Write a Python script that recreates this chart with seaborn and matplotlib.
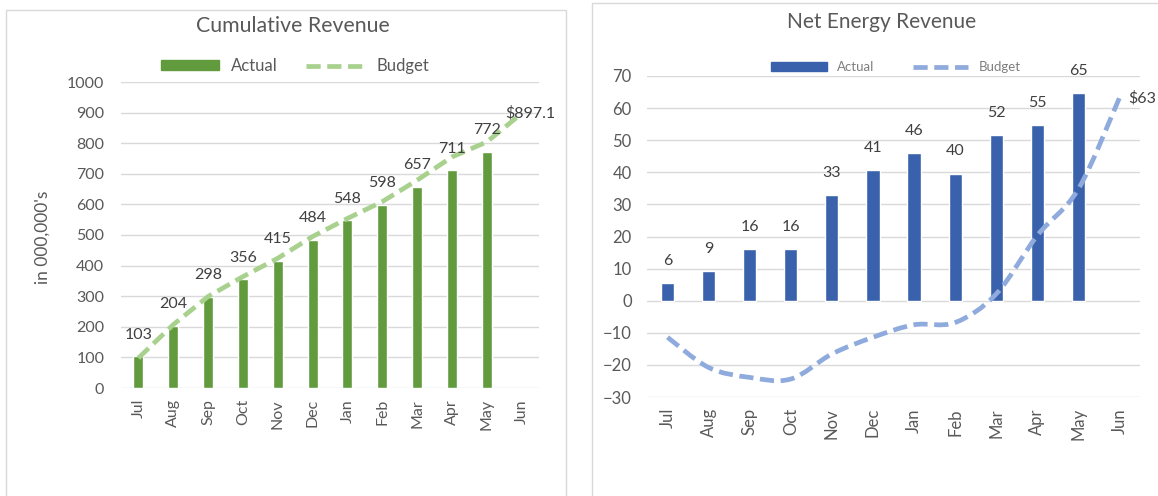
import numpy as np
import pandas as pd
import seaborn as sns
import matplotlib
matplotlib.use("Agg")
import matplotlib.pyplot as plt
from matplotlib.patches import Rectangle, PathPatch, Patch
from matplotlib.path import Path
from matplotlib.lines import Line2D

# ---------------- data ----------------
months = ["Jul", "Aug", "Sep", "Oct", "Nov", "Dec", "Jan", "Feb", "Mar", "Apr", "May", "Jun"]
cum_actual = [103, 204, 298, 356, 415, 484, 548, 598, 657, 711, 772]
cum_budget = [98, 207, 299, 364, 424, 495, 554, 609, 679, 755, 804, 897.1]
net_actual = [5.6, 9.1, 16, 16, 33, 40.6, 46, 39.6, 51.6, 54.6, 64.6]
net_budget = [-11.4, -20.8, -23.9, -24.4, -16.6, -11.4, -7.5, -6.8, 2.1, 20.3, 34.8, 63.2]
left_yticks = [0, 100, 200, 300, 400, 500, 600, 700, 800, 900, 1000]
right_yticks = [-30, -20, -10, 0, 10, 20, 30, 40, 50, 60, 70]

# ---------------- style ----------------
sns.set_theme(style="white")
plt.rcParams["font.family"] = ["Lato", "DejaVu Sans"]

GREEN = "#629B3D"
LGREEN = "#A9D18E"
BLUE = "#3A62AC"
LBLUE = "#8FAADC"
GRID = "#D9D9D9"
TXT = "#595959"
LBL = "#404040"

W, H = 1158, 496
fig = plt.figure(figsize=(W / 100, H / 100), dpi=100)

# panel borders
fig.add_artist(Rectangle((6 / W, -0.05), (566 - 6) / W, 1.05 - 10 / H,
                         transform=fig.transFigure, fill=False, ec=GRID, lw=1))
fig.add_artist(Rectangle((592 / W, -0.05), 0.5, 1.05 - 3 / H,
                         transform=fig.transFigure, fill=False, ec=GRID, lw=1))


def frac_box(x0, x1, ytop, ybot):
    return [x0 / W, 1 - ybot / H, (x1 - x0) / W, (ybot - ytop) / H]


def style_axes(ax, yticks, fs, ypad):
    for s in ax.spines.values():
        s.set_visible(False)
    ax.set_yticks(yticks)
    ax.yaxis.grid(True, color=GRID, lw=1)
    ax.set_axisbelow(True)
    ax.tick_params(axis="both", length=0, colors=TXT, labelsize=fs)
    ax.tick_params(axis="y", pad=ypad)
    ax.tick_params(axis="x", pad=8)
    ax.set_xlabel("")
    ax.set_ylabel("")


DASH = (3.0, 1.4)

# ---------------- left chart ----------------
axL = fig.add_axes(frac_box(121, 539, 82, 388))
dfL = pd.DataFrame({"month": months[:len(cum_actual)], "actual": cum_actual})
sns.barplot(data=dfL, x="month", y="actual", order=months, color=GREEN,
            width=0.29, saturation=1, ax=axL, errorbar=None)
sns.lineplot(x=np.arange(len(months)), y=cum_budget, ax=axL, color=LGREEN,
             lw=3.4)
axL.lines[-1].set_dashes(DASH)
axL.set_xlim(-0.5, len(months) - 0.5)
axL.set_ylim(0, 1000)
style_axes(axL, left_yticks, 11.5, 12)
axL.set_xticks(range(len(months)))
axL.set_xticklabels(months, rotation=90)
for i, v in enumerate(cum_actual):
    axL.annotate(f"{v:.0f}", (i, v), xytext=(0, 15.5), textcoords="offset points",
                 ha="center", va="center", fontsize=11.5, color=LBL)
axL.annotate(f"${cum_budget[-1]:.1f}", (len(months) - 1, cum_budget[-1]),
             xytext=(6.5, 0), textcoords="offset points", ha="center", va="center",
             fontsize=11.5, color=LBL, annotation_clip=False)
fig.text(43 / W, 1 - 237 / H, "in 000,000's", rotation=90, ha="center",
         va="center", fontsize=12.5, color=TXT)
fig.text(293 / W, 1 - 26 / H, "Cumulative Revenue", ha="center", va="center",
         fontsize=15.3, color=TXT)
hL = [Patch(color=GREEN), Line2D([], [], color=LGREEN, lw=3.4, dashes=DASH)]
fig.legend(hL, ["Actual", "Budget"], loc="center",
           bbox_to_anchor=(295 / W, 1 - 66 / H), ncol=2, frameon=False,
           fontsize=12, handlelength=3.5, handleheight=0.55,
           handletextpad=0.7, columnspacing=1.7, labelcolor=TXT)

# ---------------- right chart ----------------
axR = fig.add_axes(frac_box(647, 1140, 76, 397))
dfR = pd.DataFrame({"month": months[:len(net_actual)], "actual": net_actual})
sns.barplot(data=dfR, x="month", y="actual", order=months, color=BLUE,
            width=0.32, saturation=1, ax=axR, errorbar=None)
# smoothed budget curve (cubic Bezier through the data points)
pts = np.column_stack([np.arange(len(months)), net_budget]).astype(float)
ext = np.vstack([pts[0], pts, pts[-1]])
verts = [tuple(pts[0])]
codes = [Path.MOVETO]
for i in range(len(pts) - 1):
    p0, p1, p2, p3 = ext[i], ext[i + 1], ext[i + 2], ext[i + 3]
    c1 = p1 + (p2 - p0) / 6
    c2 = p2 - (p3 - p1) / 6
    verts += [tuple(c1), tuple(c2), tuple(p2)]
    codes += [Path.CURVE4] * 3
curve = PathPatch(Path(verts, codes), fill=False, ec=LBLUE, lw=3.4,
                  linestyle=(0, DASH), capstyle="butt")
axR.add_patch(curve)
axR.set_xlim(-0.5, len(months) - 0.5)
axR.set_ylim(-30, 70)
style_axes(axR, right_yticks, 12, 11)
axR.set_xticks(range(len(months)))
axR.set_xticklabels(months, rotation=90)
for i, v in enumerate(net_actual):
    axR.annotate(f"{v:.0f}", (i, v), xytext=(0, 16), textcoords="offset points",
                 ha="center", va="center", fontsize=11.5, color=LBL)
axR.annotate(f"${net_budget[-1]:.0f}", (len(months) - 1, net_budget[-1]),
             xytext=(6, 0), textcoords="offset points", ha="left", va="center",
             fontsize=11.5, color=LBL, annotation_clip=False)
fig.text(882 / W, 1 - 22 / H, "Net Energy Revenue", ha="center", va="center",
         fontsize=15, color=TXT)
hR = [Patch(color=BLUE), Line2D([], [], color=LBLUE, lw=3.4, dashes=DASH)]
fig.legend(hR, ["Actual", "Budget"], loc="center",
           bbox_to_anchor=(896 / W, 1 - 67 / H), ncol=2, frameon=False,
           fontsize=9.5, handlelength=4.2, handleheight=0.6,
           handletextpad=0.8, columnspacing=2.9, labelcolor="#7F7F7F")

fig.savefig("out.png", dpi=100)
